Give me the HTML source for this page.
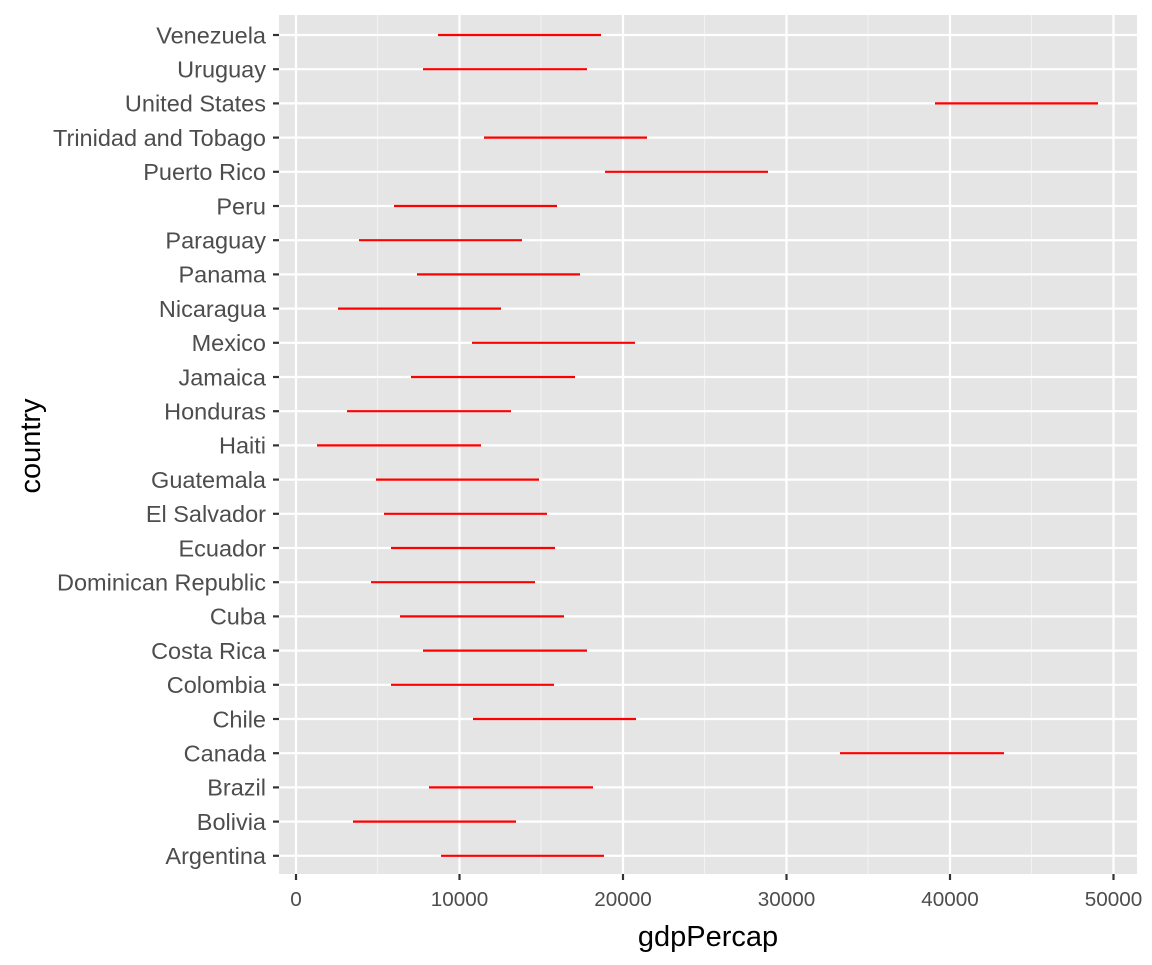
<!DOCTYPE html>
<html><head><meta charset="utf-8"><style>html,body{margin:0;padding:0;background:#fff}</style></head>
<body>
<svg width="1152" height="960" xmlns="http://www.w3.org/2000/svg" font-family="Liberation Sans, Arial, sans-serif">
<rect x="0" y="0" width="1152" height="960" fill="#fff"/>
<rect x="279" y="15" width="858" height="859" fill="#e5e5e5"/>
<g stroke="#f2f2f2" stroke-width="1.1">
<line x1="377.5" y1="15" x2="377.5" y2="874"/><line x1="541" y1="15" x2="541" y2="874"/><line x1="704.5" y1="15" x2="704.5" y2="874"/><line x1="868" y1="15" x2="868" y2="874"/><line x1="1031.5" y1="15" x2="1031.5" y2="874"/>
</g>
<g stroke="#fff" stroke-width="2.2" id="g"></g>
<g id="t" font-size="23.5" fill="#4d4d4d" text-anchor="end"></g>
<g id="s" stroke="#ff0000" stroke-width="2.2"></g>
<g font-size="20.7" fill="#4d4d4d" text-anchor="middle">
<text x="296" y="906">0</text><text x="459.5" y="906">10000</text><text x="623" y="906">20000</text><text x="786.5" y="906">30000</text><text x="950" y="906">40000</text><text x="1113.5" y="906">50000</text>
</g>
<g stroke="#333" stroke-width="2.2">
<line x1="296" y1="874" x2="296" y2="880"/><line x1="459.5" y1="874" x2="459.5" y2="880"/><line x1="623" y1="874" x2="623" y2="880"/><line x1="786.5" y1="874" x2="786.5" y2="880"/><line x1="950" y1="874" x2="950" y2="880"/><line x1="1113.5" y1="874" x2="1113.5" y2="880"/>
</g>
<text x="708" y="946" font-size="29" text-anchor="middle" fill="#000">gdpPercap</text>
<text transform="translate(40,446) rotate(-90)" font-size="29" text-anchor="middle" fill="#000">country</text>
<script>
var d=[["Venezuela",438,601],["Uruguay",423,587],["United States",935,1098],["Trinidad and Tobago",484,647],["Puerto Rico",605,768],["Peru",394,557],["Paraguay",359,522],["Panama",417,580],["Nicaragua",338,501],["Mexico",472,635],["Jamaica",411,575],["Honduras",347,511],["Haiti",317,481],["Guatemala",376,539],["El Salvador",384,547],["Ecuador",391,555],["Dominican Republic",371,535],["Cuba",400,564],["Costa Rica",423,587],["Colombia",391,554],["Chile",473,636],["Canada",840,1004],["Brazil",429,593],["Bolivia",353,516],["Argentina",441,604]];
var ns="http://www.w3.org/2000/svg",g=document.getElementById("g"),t=document.getElementById("t"),s=document.getElementById("s");
function L(p,a){var e=document.createElementNS(ns,"line");for(var k in a)e.setAttribute(k,a[k]);p.appendChild(e);return e;}
[296,459.5,623,786.5,950,1113.5].forEach(function(x){L(g,{x1:x,y1:15,x2:x,y2:874});});
d.forEach(function(r,i){var y=35+i*34.2;
L(g,{x1:279,y1:y,x2:1137,y2:y});
var tk=L(t,{x1:273,y1:y,x2:279,y2:y});tk.setAttribute("stroke","#333");tk.setAttribute("stroke-width","2.2");
var tx=document.createElementNS(ns,"text");tx.setAttribute("x",266);tx.setAttribute("y",y+8.3);tx.textContent=r[0];t.appendChild(tx);
L(s,{x1:r[1],y1:y,x2:r[2],y2:y});});
</script>
</svg>
</body></html>
